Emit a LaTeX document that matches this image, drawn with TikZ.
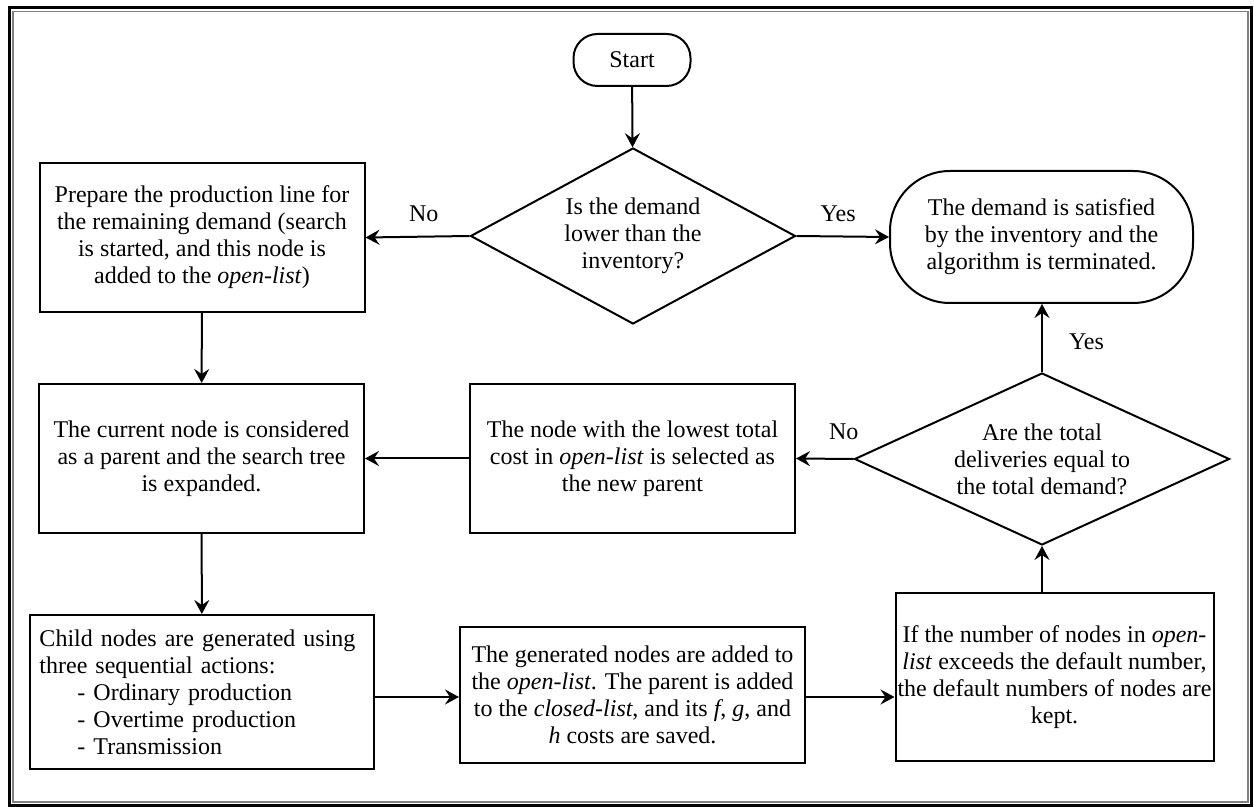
\documentclass[tikz,border=0pt]{standalone}
\usepackage{fontspec}
\setmainfont{Liberation Serif}
\usetikzlibrary{shapes.geometric,arrows.meta}

\begin{document}
\begin{tikzpicture}[x=0.5pt, y=-0.5pt,
		every node/.style={align=center, inner sep=1pt, font=\fontsize{12}{13.5}\selectfont},
		proc/.style={draw, line width=1pt, minimum width=162.5pt, minimum height=74.5pt},
		term/.style={draw, line width=1pt, rounded corners=12pt},
		decide/.style={draw, line width=1pt, diamond, inner sep=0pt},
		flow/.style={->, line width=1pt},
		>={Stealth[length=7pt, width=7.5pt, inset=2.5pt]}]
		\useasboundingbox (0,0) rectangle (1254,807);
		\draw[line width=1.3pt] (9.5,7.5) rectangle (1251.5,805.5);
		\draw[line width=0.8pt, gray] (13,11.5) rectangle (1248,802);

		\node[term, minimum width=58.5pt, minimum height=26pt] (start) at (632,60) {Start};
		\node[decide, shape aspect=1.85, minimum width=162.5pt, minimum height=88pt] (dem) at (633,236) {Is the demand\\ lower than the\\ inventory?};
		\node[proc] (prep) at (202,237.5) {Prepare the production line for\\ the remaining demand (search\\ is started, and this node is\\ added to the \textit{open-list})};
		\node[term, rounded corners=30pt, minimum width=151.5pt, minimum height=66pt] (done) at (1041.5,237) {The demand is satisfied\\ by the inventory and the\\ algorithm is terminated.};
		\node[proc] (cur) at (201.5,458.5) {The current node is considered\\ as a parent and the search tree\\ is expanded.};
		\node[proc] (sel) at (632.5,458.5) {The node with the lowest total\\ cost in \textit{open-list} is selected as\\ the new parent};
		\node[decide, shape aspect=2.18, minimum width=187.5pt, minimum height=86pt] (deliv) at (1042,459) {Are the total\\ deliveries equal to\\ the total demand?};
		\node[proc, minimum width=172pt, minimum height=77pt, text width=162.5pt, align=left] (child) at (202,692) {\makebox[\linewidth][s]{Child nodes are generated using}\\ three sequential actions:\\ \hspace*{19pt}- Ordinary production\\ \hspace*{19pt}- Overtime production\\ \hspace*{19pt}- Transmission};
		\node[proc, minimum width=172.5pt, minimum height=68pt] (gen) at (632.5,695) {The generated nodes are added to\\ the \textit{open-list}. The parent is added\\ to the \textit{closed-list}, and its \textit{f}, \textit{g}, and\\ \textit{h} costs are saved.};
		\node[proc, minimum width=159pt, minimum height=84pt] (keep) at (1054.5,677) {If the number of nodes in \textit{open-}\\ \textit{list} exceeds the default number,\\ the default numbers of nodes are\\ kept.};

		\draw[flow] (start) to (dem);
		\draw[flow] (dem.west) to node[pos=0.44, above=6pt] {No} (prep.east);
		\draw[flow] (dem.east) to node[pos=0.45, above=6pt] {Yes} (done.west);
		\draw[flow] (prep) to (cur);
		\draw[flow] (sel) to (cur);
		\draw[flow] (deliv.west) to node[pos=0.17, above=8pt] {No} (sel.east);
		\draw[flow] (deliv.north) to node[pos=0.45, right=12pt] {Yes} (done.south -| deliv.north);
		\draw[flow] (cur) to (child);
		\draw[flow] ([yshift=-2.5pt]child.east) to ([yshift=-2.5pt]child.east -| gen.west);
		\draw[flow] ([yshift=-1pt]gen.east) to ([yshift=-1pt]gen.east -| keep.west);
		\draw[flow] (keep.north -| deliv.south) to (deliv.south);
\end{tikzpicture}
\end{document}
